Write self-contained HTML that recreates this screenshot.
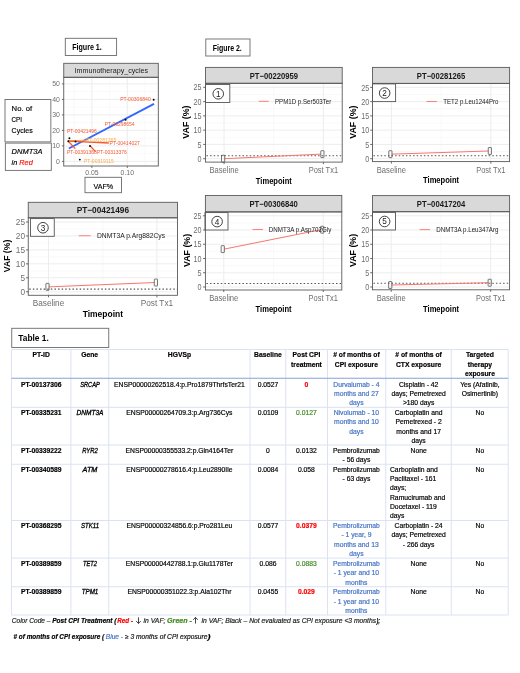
<!DOCTYPE html>
<html><head><meta charset="utf-8"><title>Figure</title>
<style>
html,body{margin:0;padding:0;background:#fff;}
body{width:520px;height:673px;overflow:hidden;}
svg{display:block;font-family:"Liberation Sans", sans-serif;filter:blur(0.35px);}
</style></head>
<body>
<svg width="520" height="673" viewBox="0 0 520 673">
<rect x="0" y="0" width="520" height="673" fill="#fff"/>
<rect x="65.30" y="38.30" width="51.30" height="17.20" fill="#fff" stroke="#6b6b6b" stroke-width="0.9"/>
<text x="72.20" y="50.10" font-size="8.8" font-weight="bold" textLength="29.60" lengthAdjust="spacingAndGlyphs">Figure 1.</text>
<rect x="205.80" y="39.00" width="44.20" height="17.00" fill="#fff" stroke="#6b6b6b" stroke-width="0.9"/>
<text x="212.70" y="50.60" font-size="8.5" font-weight="bold" textLength="29.10" lengthAdjust="spacingAndGlyphs">Figure 2.</text>
<rect x="63.75" y="77.30" width="94.55" height="88.70" fill="#fff" stroke="none" stroke-width="1"/>
<line x1="63.75" y1="153.65" x2="158.30" y2="153.65" stroke="#f5f5f5" stroke-width="0.6"/>
<line x1="63.75" y1="138.15" x2="158.30" y2="138.15" stroke="#f5f5f5" stroke-width="0.6"/>
<line x1="63.75" y1="122.65" x2="158.30" y2="122.65" stroke="#f5f5f5" stroke-width="0.6"/>
<line x1="63.75" y1="107.15" x2="158.30" y2="107.15" stroke="#f5f5f5" stroke-width="0.6"/>
<line x1="63.75" y1="91.65" x2="158.30" y2="91.65" stroke="#f5f5f5" stroke-width="0.6"/>
<line x1="74.20" y1="77.30" x2="74.20" y2="166.00" stroke="#f5f5f5" stroke-width="0.6"/>
<line x1="109.60" y1="77.30" x2="109.60" y2="166.00" stroke="#f5f5f5" stroke-width="0.6"/>
<line x1="145.00" y1="77.30" x2="145.00" y2="166.00" stroke="#f5f5f5" stroke-width="0.6"/>
<line x1="63.75" y1="161.40" x2="158.30" y2="161.40" stroke="#ebebeb" stroke-width="0.9"/>
<line x1="63.75" y1="145.90" x2="158.30" y2="145.90" stroke="#ebebeb" stroke-width="0.9"/>
<line x1="63.75" y1="130.40" x2="158.30" y2="130.40" stroke="#ebebeb" stroke-width="0.9"/>
<line x1="63.75" y1="114.90" x2="158.30" y2="114.90" stroke="#ebebeb" stroke-width="0.9"/>
<line x1="63.75" y1="99.40" x2="158.30" y2="99.40" stroke="#ebebeb" stroke-width="0.9"/>
<line x1="63.75" y1="83.90" x2="158.30" y2="83.90" stroke="#ebebeb" stroke-width="0.9"/>
<line x1="91.90" y1="77.30" x2="91.90" y2="166.00" stroke="#ebebeb" stroke-width="0.9"/>
<line x1="127.30" y1="77.30" x2="127.30" y2="166.00" stroke="#ebebeb" stroke-width="0.9"/>
<rect x="63.75" y="63.30" width="94.55" height="14.00" fill="#d9d9d9" stroke="#5a5a5a" stroke-width="0.9"/>
<text x="111.30" y="73.30" font-size="7.4" fill="#1a1a1a" text-anchor="middle" textLength="73.50" lengthAdjust="spacingAndGlyphs">Immunotherapy_cycles</text>
<line x1="68.80" y1="148.50" x2="154.00" y2="103.90" stroke="#3366ff" stroke-width="1.9"/>
<line x1="68.30" y1="140.70" x2="87.00" y2="140.20" stroke="#f7ad45" stroke-width="1.0"/>
<line x1="68.30" y1="141.20" x2="108.80" y2="143.00" stroke="#f45a34" stroke-width="1.3"/>
<line x1="68.50" y1="141.50" x2="75.30" y2="148.60" stroke="#f45a34" stroke-width="1.3"/>
<line x1="90.00" y1="145.80" x2="95.50" y2="151.60" stroke="#f45a34" stroke-width="1.3"/>
<circle cx="153.65" cy="99.8" r="0.95" fill="#000"/>
<circle cx="125.6" cy="119.8" r="0.95" fill="#000"/>
<circle cx="69.4" cy="138.2" r="0.95" fill="#000"/>
<circle cx="68.3" cy="141.2" r="0.95" fill="#000"/>
<circle cx="75.5" cy="141.5" r="0.95" fill="#000"/>
<circle cx="90.0" cy="146.0" r="0.95" fill="#000"/>
<circle cx="79.8" cy="159.6" r="0.95" fill="#000"/>
<text x="120.20" y="101.05" font-size="4.9" fill="#f45a34" textLength="30.60" lengthAdjust="spacingAndGlyphs">PT-00306840</text>
<text x="104.80" y="126.35" font-size="4.9" fill="#f45a34" textLength="29.80" lengthAdjust="spacingAndGlyphs">PT-00298654</text>
<text x="66.90" y="132.85" font-size="4.9" fill="#f45a34" textLength="29.90" lengthAdjust="spacingAndGlyphs">PT-00421496</text>
<text x="85.90" y="141.55" font-size="4.9" fill="#f7ad45" textLength="30.30" lengthAdjust="spacingAndGlyphs">PT-00281265</text>
<text x="109.60" y="144.75" font-size="4.9" fill="#f45a34" textLength="30.30" lengthAdjust="spacingAndGlyphs">PT-00414027</text>
<text x="66.90" y="153.85" font-size="4.9" fill="#f45a34" textLength="30.00" lengthAdjust="spacingAndGlyphs">PT-00391368</text>
<text x="96.90" y="153.85" font-size="4.9" fill="#f45a34" textLength="29.90" lengthAdjust="spacingAndGlyphs">PT-00313376</text>
<text x="84.00" y="163.35" font-size="4.9" fill="#f7ad45" textLength="29.90" lengthAdjust="spacingAndGlyphs">PT-00319115</text>
<rect x="63.75" y="77.30" width="94.55" height="88.70" fill="none" stroke="#5a5a5a" stroke-width="0.9"/>
<line x1="61.90" y1="161.40" x2="63.75" y2="161.40" stroke="#5a5a5a" stroke-width="0.9"/>
<text x="59.80" y="163.85" font-size="6.9" fill="#6e6e6e" text-anchor="end">0</text>
<line x1="61.90" y1="145.90" x2="63.75" y2="145.90" stroke="#5a5a5a" stroke-width="0.9"/>
<text x="59.80" y="148.35" font-size="6.9" fill="#6e6e6e" text-anchor="end">10</text>
<line x1="61.90" y1="130.40" x2="63.75" y2="130.40" stroke="#5a5a5a" stroke-width="0.9"/>
<text x="59.80" y="132.85" font-size="6.9" fill="#6e6e6e" text-anchor="end">20</text>
<line x1="61.90" y1="114.90" x2="63.75" y2="114.90" stroke="#5a5a5a" stroke-width="0.9"/>
<text x="59.80" y="117.35" font-size="6.9" fill="#6e6e6e" text-anchor="end">30</text>
<line x1="61.90" y1="99.40" x2="63.75" y2="99.40" stroke="#5a5a5a" stroke-width="0.9"/>
<text x="59.80" y="101.85" font-size="6.9" fill="#6e6e6e" text-anchor="end">40</text>
<line x1="61.90" y1="83.90" x2="63.75" y2="83.90" stroke="#5a5a5a" stroke-width="0.9"/>
<text x="59.80" y="86.35" font-size="6.9" fill="#6e6e6e" text-anchor="end">50</text>
<line x1="91.90" y1="166.00" x2="91.90" y2="167.90" stroke="#5a5a5a" stroke-width="0.9"/>
<text x="91.90" y="175.40" font-size="6.9" fill="#6e6e6e" text-anchor="middle">0.05</text>
<line x1="127.30" y1="166.00" x2="127.30" y2="167.90" stroke="#5a5a5a" stroke-width="0.9"/>
<text x="127.30" y="175.40" font-size="6.9" fill="#6e6e6e" text-anchor="middle">0.10</text>
<rect x="5.00" y="99.50" width="45.85" height="42.40" fill="#fff" stroke="#6b6b6b" stroke-width="0.9"/>
<text x="11.60" y="110.70" font-size="7.3" stroke="#000" stroke-width="0.15" textLength="20.50" lengthAdjust="spacingAndGlyphs">No. of</text>
<text x="11.60" y="121.80" font-size="7.3" stroke="#000" stroke-width="0.15" textLength="10.40" lengthAdjust="spacingAndGlyphs">CPI</text>
<text x="11.60" y="133.00" font-size="7.3" stroke="#000" stroke-width="0.15" textLength="21.10" lengthAdjust="spacingAndGlyphs">Cycles</text>
<rect x="5.35" y="143.10" width="45.95" height="27.30" fill="#fff" stroke="#6b6b6b" stroke-width="0.9"/>
<text x="11.60" y="154.40" font-size="7.3" stroke="#000" stroke-width="0.15" font-style="italic" textLength="30.90" lengthAdjust="spacingAndGlyphs">DNMT3A</text>
<text x="11.6" y="165.3" font-size="7.3" font-style="italic" stroke="#000" stroke-width="0.15">in <tspan fill="#ff0000" stroke="#ff0000">Red</tspan></text>
<rect x="85.00" y="177.30" width="36.50" height="15.40" fill="#fff" stroke="#6b6b6b" stroke-width="0.9"/>
<text x="93.50" y="188.75" font-size="7.6" stroke="#000" stroke-width="0.15" textLength="19.70" lengthAdjust="spacingAndGlyphs">VAF%</text>
<rect x="205.50" y="83.30" width="136.70" height="78.80" fill="#fff" stroke="none" stroke-width="1"/>
<line x1="205.50" y1="151.56" x2="342.20" y2="151.56" stroke="#f5f5f5" stroke-width="0.6"/>
<line x1="205.50" y1="137.28" x2="342.20" y2="137.28" stroke="#f5f5f5" stroke-width="0.6"/>
<line x1="205.50" y1="123.00" x2="342.20" y2="123.00" stroke="#f5f5f5" stroke-width="0.6"/>
<line x1="205.50" y1="108.72" x2="342.20" y2="108.72" stroke="#f5f5f5" stroke-width="0.6"/>
<line x1="205.50" y1="94.44" x2="342.20" y2="94.44" stroke="#f5f5f5" stroke-width="0.6"/>
<line x1="273.75" y1="83.30" x2="273.75" y2="162.10" stroke="#f5f5f5" stroke-width="0.6"/>
<line x1="205.50" y1="158.70" x2="342.20" y2="158.70" stroke="#ebebeb" stroke-width="0.9"/>
<line x1="205.50" y1="144.42" x2="342.20" y2="144.42" stroke="#ebebeb" stroke-width="0.9"/>
<line x1="205.50" y1="130.14" x2="342.20" y2="130.14" stroke="#ebebeb" stroke-width="0.9"/>
<line x1="205.50" y1="115.86" x2="342.20" y2="115.86" stroke="#ebebeb" stroke-width="0.9"/>
<line x1="205.50" y1="101.58" x2="342.20" y2="101.58" stroke="#ebebeb" stroke-width="0.9"/>
<line x1="205.50" y1="87.30" x2="342.20" y2="87.30" stroke="#ebebeb" stroke-width="0.9"/>
<line x1="224.10" y1="83.30" x2="224.10" y2="162.10" stroke="#ebebeb" stroke-width="0.9"/>
<line x1="323.40" y1="83.30" x2="323.40" y2="162.10" stroke="#ebebeb" stroke-width="0.9"/>
<line x1="206.50" y1="155.70" x2="342.20" y2="155.70" stroke="#555" stroke-width="1.05" stroke-dasharray="1.5,2.1"/>
<line x1="224.70" y1="158.70" x2="320.80" y2="154.13" stroke="#f8766d" stroke-width="1.0"/>
<rect x="221.50" y="155.25" width="3.20" height="6.90" fill="none" stroke="#555" stroke-width="0.8" rx="0.4"/>
<rect x="320.80" y="150.68" width="3.20" height="6.90" fill="none" stroke="#555" stroke-width="0.8" rx="0.4"/>
<line x1="258.75" y1="101.30" x2="268.75" y2="101.30" stroke="#f8766d" stroke-width="0.9"/>
<text x="275.00" y="103.70" font-size="7.0" fill="#1a1a1a" textLength="56.25" lengthAdjust="spacingAndGlyphs">PPM1D p.Ser503Ter</text>
<rect x="205.50" y="67.40" width="136.70" height="15.90" fill="#d9d9d9" stroke="#5a5a5a" stroke-width="0.9"/>
<text x="273.85" y="78.55" font-size="8.8" fill="#1a1a1a" font-weight="bold" text-anchor="middle" textLength="48.40" lengthAdjust="spacingAndGlyphs">PT−00220959</text>
<rect x="205.50" y="84.50" width="24.30" height="18.00" fill="#fff" stroke="#555" stroke-width="0.9"/>
<circle cx="218.25" cy="93.80" r="5.3" fill="none" stroke="#222" stroke-width="0.85"/>
<text x="218.25" y="96.75" font-size="8.2" fill="#1a1a1a" text-anchor="middle">1</text>
<rect x="205.50" y="83.30" width="136.70" height="78.80" fill="none" stroke="#5a5a5a" stroke-width="0.9"/>
<line x1="203.20" y1="158.70" x2="205.50" y2="158.70" stroke="#5a5a5a" stroke-width="0.9"/>
<text x="201.50" y="161.80" font-size="8.8" fill="#6e6e6e" text-anchor="end" textLength="4.00" lengthAdjust="spacingAndGlyphs">0</text>
<line x1="203.20" y1="144.42" x2="205.50" y2="144.42" stroke="#5a5a5a" stroke-width="0.9"/>
<text x="201.50" y="147.52" font-size="8.8" fill="#6e6e6e" text-anchor="end" textLength="4.00" lengthAdjust="spacingAndGlyphs">5</text>
<line x1="203.20" y1="130.14" x2="205.50" y2="130.14" stroke="#5a5a5a" stroke-width="0.9"/>
<text x="201.50" y="133.24" font-size="8.8" fill="#6e6e6e" text-anchor="end" textLength="8.00" lengthAdjust="spacingAndGlyphs">10</text>
<line x1="203.20" y1="115.86" x2="205.50" y2="115.86" stroke="#5a5a5a" stroke-width="0.9"/>
<text x="201.50" y="118.96" font-size="8.8" fill="#6e6e6e" text-anchor="end" textLength="8.00" lengthAdjust="spacingAndGlyphs">15</text>
<line x1="203.20" y1="101.58" x2="205.50" y2="101.58" stroke="#5a5a5a" stroke-width="0.9"/>
<text x="201.50" y="104.68" font-size="8.8" fill="#6e6e6e" text-anchor="end" textLength="8.00" lengthAdjust="spacingAndGlyphs">20</text>
<line x1="203.20" y1="87.30" x2="205.50" y2="87.30" stroke="#5a5a5a" stroke-width="0.9"/>
<text x="201.50" y="90.40" font-size="8.8" fill="#6e6e6e" text-anchor="end" textLength="8.00" lengthAdjust="spacingAndGlyphs">25</text>
<line x1="224.10" y1="162.10" x2="224.10" y2="164.10" stroke="#5a5a5a" stroke-width="0.9"/>
<line x1="323.40" y1="162.10" x2="323.40" y2="164.10" stroke="#5a5a5a" stroke-width="0.9"/>
<text x="224.10" y="173.20" font-size="8.8" fill="#6e6e6e" text-anchor="middle" textLength="29.20" lengthAdjust="spacingAndGlyphs">Baseline</text>
<text x="323.40" y="173.20" font-size="8.8" fill="#6e6e6e" text-anchor="middle" textLength="29.30" lengthAdjust="spacingAndGlyphs">Post Tx1</text>
<text x="273.85" y="183.70" font-size="8.8" font-weight="bold" text-anchor="middle" textLength="36.00" lengthAdjust="spacingAndGlyphs">Timepoint</text>
<text transform="translate(189.40,122.10) rotate(-90)" font-size="8.3" font-weight="bold" text-anchor="middle" textLength="33.2" lengthAdjust="spacingAndGlyphs">VAF (%)</text>
<rect x="372.50" y="83.40" width="137.10" height="78.20" fill="#fff" stroke="none" stroke-width="1"/>
<line x1="372.50" y1="151.57" x2="509.60" y2="151.57" stroke="#f5f5f5" stroke-width="0.6"/>
<line x1="372.50" y1="137.31" x2="509.60" y2="137.31" stroke="#f5f5f5" stroke-width="0.6"/>
<line x1="372.50" y1="123.05" x2="509.60" y2="123.05" stroke="#f5f5f5" stroke-width="0.6"/>
<line x1="372.50" y1="108.79" x2="509.60" y2="108.79" stroke="#f5f5f5" stroke-width="0.6"/>
<line x1="372.50" y1="94.53" x2="509.60" y2="94.53" stroke="#f5f5f5" stroke-width="0.6"/>
<line x1="441.12" y1="83.40" x2="441.12" y2="161.60" stroke="#f5f5f5" stroke-width="0.6"/>
<line x1="372.50" y1="158.70" x2="509.60" y2="158.70" stroke="#ebebeb" stroke-width="0.9"/>
<line x1="372.50" y1="144.44" x2="509.60" y2="144.44" stroke="#ebebeb" stroke-width="0.9"/>
<line x1="372.50" y1="130.18" x2="509.60" y2="130.18" stroke="#ebebeb" stroke-width="0.9"/>
<line x1="372.50" y1="115.92" x2="509.60" y2="115.92" stroke="#ebebeb" stroke-width="0.9"/>
<line x1="372.50" y1="101.66" x2="509.60" y2="101.66" stroke="#ebebeb" stroke-width="0.9"/>
<line x1="372.50" y1="87.40" x2="509.60" y2="87.40" stroke="#ebebeb" stroke-width="0.9"/>
<line x1="391.40" y1="83.40" x2="391.40" y2="161.60" stroke="#ebebeb" stroke-width="0.9"/>
<line x1="490.85" y1="83.40" x2="490.85" y2="161.60" stroke="#ebebeb" stroke-width="0.9"/>
<line x1="373.50" y1="155.71" x2="509.60" y2="155.71" stroke="#555" stroke-width="1.05" stroke-dasharray="1.5,2.1"/>
<line x1="392.00" y1="154.14" x2="488.25" y2="151.00" stroke="#f8766d" stroke-width="1.0"/>
<rect x="388.80" y="150.69" width="3.20" height="6.90" fill="none" stroke="#555" stroke-width="0.8" rx="0.4"/>
<rect x="488.25" y="147.55" width="3.20" height="6.90" fill="none" stroke="#555" stroke-width="0.8" rx="0.4"/>
<line x1="426.50" y1="101.50" x2="437.00" y2="101.50" stroke="#f8766d" stroke-width="0.9"/>
<text x="443.20" y="103.90" font-size="7.0" fill="#1a1a1a" textLength="55.30" lengthAdjust="spacingAndGlyphs">TET2 p.Leu1244Pro</text>
<rect x="372.50" y="67.40" width="137.10" height="16.00" fill="#d9d9d9" stroke="#5a5a5a" stroke-width="0.9"/>
<text x="441.05" y="78.60" font-size="8.8" fill="#1a1a1a" font-weight="bold" text-anchor="middle" textLength="48.40" lengthAdjust="spacingAndGlyphs">PT−00281265</text>
<rect x="372.50" y="83.90" width="23.10" height="17.70" fill="#fff" stroke="#555" stroke-width="0.9"/>
<circle cx="384.65" cy="93.05" r="5.3" fill="none" stroke="#222" stroke-width="0.85"/>
<text x="384.65" y="96.00" font-size="8.2" fill="#1a1a1a" text-anchor="middle">2</text>
<rect x="372.50" y="83.40" width="137.10" height="78.20" fill="none" stroke="#5a5a5a" stroke-width="0.9"/>
<line x1="370.20" y1="158.70" x2="372.50" y2="158.70" stroke="#5a5a5a" stroke-width="0.9"/>
<text x="369.30" y="161.80" font-size="8.8" fill="#6e6e6e" text-anchor="end" textLength="4.00" lengthAdjust="spacingAndGlyphs">0</text>
<line x1="370.20" y1="144.44" x2="372.50" y2="144.44" stroke="#5a5a5a" stroke-width="0.9"/>
<text x="369.30" y="147.54" font-size="8.8" fill="#6e6e6e" text-anchor="end" textLength="4.00" lengthAdjust="spacingAndGlyphs">5</text>
<line x1="370.20" y1="130.18" x2="372.50" y2="130.18" stroke="#5a5a5a" stroke-width="0.9"/>
<text x="369.30" y="133.28" font-size="8.8" fill="#6e6e6e" text-anchor="end" textLength="8.00" lengthAdjust="spacingAndGlyphs">10</text>
<line x1="370.20" y1="115.92" x2="372.50" y2="115.92" stroke="#5a5a5a" stroke-width="0.9"/>
<text x="369.30" y="119.02" font-size="8.8" fill="#6e6e6e" text-anchor="end" textLength="8.00" lengthAdjust="spacingAndGlyphs">15</text>
<line x1="370.20" y1="101.66" x2="372.50" y2="101.66" stroke="#5a5a5a" stroke-width="0.9"/>
<text x="369.30" y="104.76" font-size="8.8" fill="#6e6e6e" text-anchor="end" textLength="8.00" lengthAdjust="spacingAndGlyphs">20</text>
<line x1="370.20" y1="87.40" x2="372.50" y2="87.40" stroke="#5a5a5a" stroke-width="0.9"/>
<text x="369.30" y="90.50" font-size="8.8" fill="#6e6e6e" text-anchor="end" textLength="8.00" lengthAdjust="spacingAndGlyphs">25</text>
<line x1="391.40" y1="161.60" x2="391.40" y2="163.60" stroke="#5a5a5a" stroke-width="0.9"/>
<line x1="490.85" y1="161.60" x2="490.85" y2="163.60" stroke="#5a5a5a" stroke-width="0.9"/>
<text x="391.40" y="172.80" font-size="8.8" fill="#6e6e6e" text-anchor="middle" textLength="29.20" lengthAdjust="spacingAndGlyphs">Baseline</text>
<text x="490.85" y="172.80" font-size="8.8" fill="#6e6e6e" text-anchor="middle" textLength="29.30" lengthAdjust="spacingAndGlyphs">Post Tx1</text>
<text x="441.05" y="183.40" font-size="8.8" font-weight="bold" text-anchor="middle" textLength="36.00" lengthAdjust="spacingAndGlyphs">Timepoint</text>
<text transform="translate(356.00,122.15) rotate(-90)" font-size="8.3" font-weight="bold" text-anchor="middle" textLength="33.2" lengthAdjust="spacingAndGlyphs">VAF (%)</text>
<rect x="28.25" y="217.80" width="149.25" height="77.50" fill="#fff" stroke="none" stroke-width="1"/>
<line x1="28.25" y1="284.77" x2="177.50" y2="284.77" stroke="#f5f5f5" stroke-width="0.6"/>
<line x1="28.25" y1="270.82" x2="177.50" y2="270.82" stroke="#f5f5f5" stroke-width="0.6"/>
<line x1="28.25" y1="256.88" x2="177.50" y2="256.88" stroke="#f5f5f5" stroke-width="0.6"/>
<line x1="28.25" y1="242.93" x2="177.50" y2="242.93" stroke="#f5f5f5" stroke-width="0.6"/>
<line x1="28.25" y1="228.97" x2="177.50" y2="228.97" stroke="#f5f5f5" stroke-width="0.6"/>
<line x1="102.70" y1="217.80" x2="102.70" y2="295.30" stroke="#f5f5f5" stroke-width="0.6"/>
<line x1="28.25" y1="291.75" x2="177.50" y2="291.75" stroke="#ebebeb" stroke-width="0.9"/>
<line x1="28.25" y1="277.80" x2="177.50" y2="277.80" stroke="#ebebeb" stroke-width="0.9"/>
<line x1="28.25" y1="263.85" x2="177.50" y2="263.85" stroke="#ebebeb" stroke-width="0.9"/>
<line x1="28.25" y1="249.90" x2="177.50" y2="249.90" stroke="#ebebeb" stroke-width="0.9"/>
<line x1="28.25" y1="235.95" x2="177.50" y2="235.95" stroke="#ebebeb" stroke-width="0.9"/>
<line x1="28.25" y1="222.00" x2="177.50" y2="222.00" stroke="#ebebeb" stroke-width="0.9"/>
<line x1="48.50" y1="217.80" x2="48.50" y2="295.30" stroke="#ebebeb" stroke-width="0.9"/>
<line x1="156.90" y1="217.80" x2="156.90" y2="295.30" stroke="#ebebeb" stroke-width="0.9"/>
<line x1="29.25" y1="289.10" x2="177.50" y2="289.10" stroke="#555" stroke-width="1.05" stroke-dasharray="1.5,2.1"/>
<line x1="49.10" y1="286.87" x2="154.30" y2="282.54" stroke="#f8766d" stroke-width="1.0"/>
<rect x="45.90" y="283.42" width="3.20" height="6.90" fill="none" stroke="#555" stroke-width="0.8" rx="0.4"/>
<rect x="154.30" y="279.09" width="3.20" height="6.90" fill="none" stroke="#555" stroke-width="0.8" rx="0.4"/>
<line x1="78.75" y1="235.75" x2="90.50" y2="235.75" stroke="#f8766d" stroke-width="0.9"/>
<text x="97.00" y="238.15" font-size="7.0" fill="#1a1a1a" textLength="68.00" lengthAdjust="spacingAndGlyphs">DNMT3A p.Arg882Cys</text>
<rect x="28.25" y="202.30" width="149.25" height="15.50" fill="#d9d9d9" stroke="#5a5a5a" stroke-width="0.9"/>
<text x="102.88" y="213.25" font-size="8.8" fill="#1a1a1a" font-weight="bold" text-anchor="middle" textLength="52.50" lengthAdjust="spacingAndGlyphs">PT−00421496</text>
<rect x="30.50" y="218.60" width="23.75" height="17.70" fill="#fff" stroke="#555" stroke-width="0.9"/>
<circle cx="42.98" cy="227.75" r="5.3" fill="none" stroke="#222" stroke-width="0.85"/>
<text x="42.98" y="230.70" font-size="8.2" fill="#1a1a1a" text-anchor="middle">3</text>
<rect x="28.25" y="217.80" width="149.25" height="77.50" fill="none" stroke="#5a5a5a" stroke-width="0.9"/>
<line x1="25.95" y1="291.75" x2="28.25" y2="291.75" stroke="#5a5a5a" stroke-width="0.9"/>
<text x="25.00" y="294.85" font-size="8.8" fill="#6e6e6e" text-anchor="end" textLength="4.60" lengthAdjust="spacingAndGlyphs">0</text>
<line x1="25.95" y1="277.80" x2="28.25" y2="277.80" stroke="#5a5a5a" stroke-width="0.9"/>
<text x="25.00" y="280.90" font-size="8.8" fill="#6e6e6e" text-anchor="end" textLength="4.60" lengthAdjust="spacingAndGlyphs">5</text>
<line x1="25.95" y1="263.85" x2="28.25" y2="263.85" stroke="#5a5a5a" stroke-width="0.9"/>
<text x="25.00" y="266.95" font-size="8.8" fill="#6e6e6e" text-anchor="end" textLength="9.20" lengthAdjust="spacingAndGlyphs">10</text>
<line x1="25.95" y1="249.90" x2="28.25" y2="249.90" stroke="#5a5a5a" stroke-width="0.9"/>
<text x="25.00" y="253.00" font-size="8.8" fill="#6e6e6e" text-anchor="end" textLength="9.20" lengthAdjust="spacingAndGlyphs">15</text>
<line x1="25.95" y1="235.95" x2="28.25" y2="235.95" stroke="#5a5a5a" stroke-width="0.9"/>
<text x="25.00" y="239.05" font-size="8.8" fill="#6e6e6e" text-anchor="end" textLength="9.20" lengthAdjust="spacingAndGlyphs">20</text>
<line x1="25.95" y1="222.00" x2="28.25" y2="222.00" stroke="#5a5a5a" stroke-width="0.9"/>
<text x="25.00" y="225.10" font-size="8.8" fill="#6e6e6e" text-anchor="end" textLength="9.20" lengthAdjust="spacingAndGlyphs">25</text>
<line x1="48.50" y1="295.30" x2="48.50" y2="297.30" stroke="#5a5a5a" stroke-width="0.9"/>
<line x1="156.90" y1="295.30" x2="156.90" y2="297.30" stroke="#5a5a5a" stroke-width="0.9"/>
<text x="48.50" y="306.10" font-size="8.8" fill="#6e6e6e" text-anchor="middle" textLength="31.50" lengthAdjust="spacingAndGlyphs">Baseline</text>
<text x="156.90" y="306.10" font-size="8.8" fill="#6e6e6e" text-anchor="middle" textLength="32.50" lengthAdjust="spacingAndGlyphs">Post Tx1</text>
<text x="102.88" y="316.50" font-size="8.8" font-weight="bold" text-anchor="middle" textLength="40.30" lengthAdjust="spacingAndGlyphs">Timepoint</text>
<text transform="translate(10.40,255.97) rotate(-90)" font-size="8.3" font-weight="bold" text-anchor="middle" textLength="32.5" lengthAdjust="spacingAndGlyphs">VAF (%)</text>
<rect x="205.40" y="211.90" width="136.40" height="78.10" fill="#fff" stroke="none" stroke-width="1"/>
<line x1="205.40" y1="279.88" x2="341.80" y2="279.88" stroke="#f5f5f5" stroke-width="0.6"/>
<line x1="205.40" y1="265.62" x2="341.80" y2="265.62" stroke="#f5f5f5" stroke-width="0.6"/>
<line x1="205.40" y1="251.38" x2="341.80" y2="251.38" stroke="#f5f5f5" stroke-width="0.6"/>
<line x1="205.40" y1="237.12" x2="341.80" y2="237.12" stroke="#f5f5f5" stroke-width="0.6"/>
<line x1="205.40" y1="222.88" x2="341.80" y2="222.88" stroke="#f5f5f5" stroke-width="0.6"/>
<line x1="273.50" y1="211.90" x2="273.50" y2="290.00" stroke="#f5f5f5" stroke-width="0.6"/>
<line x1="205.40" y1="287.00" x2="341.80" y2="287.00" stroke="#ebebeb" stroke-width="0.9"/>
<line x1="205.40" y1="272.75" x2="341.80" y2="272.75" stroke="#ebebeb" stroke-width="0.9"/>
<line x1="205.40" y1="258.50" x2="341.80" y2="258.50" stroke="#ebebeb" stroke-width="0.9"/>
<line x1="205.40" y1="244.25" x2="341.80" y2="244.25" stroke="#ebebeb" stroke-width="0.9"/>
<line x1="205.40" y1="230.00" x2="341.80" y2="230.00" stroke="#ebebeb" stroke-width="0.9"/>
<line x1="205.40" y1="215.75" x2="341.80" y2="215.75" stroke="#ebebeb" stroke-width="0.9"/>
<line x1="223.75" y1="211.90" x2="223.75" y2="290.00" stroke="#ebebeb" stroke-width="0.9"/>
<line x1="323.25" y1="211.90" x2="323.25" y2="290.00" stroke="#ebebeb" stroke-width="0.9"/>
<line x1="206.40" y1="283.58" x2="341.80" y2="283.58" stroke="#555" stroke-width="1.05" stroke-dasharray="1.5,2.1"/>
<line x1="224.35" y1="249.09" x2="320.65" y2="229.72" stroke="#f8766d" stroke-width="1.0"/>
<rect x="221.15" y="245.65" width="3.20" height="6.90" fill="none" stroke="#555" stroke-width="0.8" rx="0.4"/>
<rect x="320.65" y="226.27" width="3.20" height="6.90" fill="none" stroke="#555" stroke-width="0.8" rx="0.4"/>
<line x1="252.50" y1="229.50" x2="263.00" y2="229.50" stroke="#f8766d" stroke-width="0.9"/>
<text x="268.75" y="231.90" font-size="7.0" fill="#1a1a1a" textLength="62.50" lengthAdjust="spacingAndGlyphs">DNMT3A p.Asp702Gly</text>
<rect x="205.40" y="195.50" width="136.40" height="16.40" fill="#d9d9d9" stroke="#5a5a5a" stroke-width="0.9"/>
<text x="273.60" y="206.90" font-size="8.8" fill="#1a1a1a" font-weight="bold" text-anchor="middle" textLength="48.40" lengthAdjust="spacingAndGlyphs">PT−00306840</text>
<rect x="205.00" y="212.60" width="23.00" height="17.40" fill="#fff" stroke="#555" stroke-width="0.9"/>
<circle cx="217.10" cy="221.60" r="5.3" fill="none" stroke="#222" stroke-width="0.85"/>
<text x="217.10" y="224.55" font-size="8.2" fill="#1a1a1a" text-anchor="middle">4</text>
<rect x="205.40" y="211.90" width="136.40" height="78.10" fill="none" stroke="#5a5a5a" stroke-width="0.9"/>
<line x1="203.10" y1="287.00" x2="205.40" y2="287.00" stroke="#5a5a5a" stroke-width="0.9"/>
<text x="201.50" y="290.10" font-size="8.8" fill="#6e6e6e" text-anchor="end" textLength="4.00" lengthAdjust="spacingAndGlyphs">0</text>
<line x1="203.10" y1="272.75" x2="205.40" y2="272.75" stroke="#5a5a5a" stroke-width="0.9"/>
<text x="201.50" y="275.85" font-size="8.8" fill="#6e6e6e" text-anchor="end" textLength="4.00" lengthAdjust="spacingAndGlyphs">5</text>
<line x1="203.10" y1="258.50" x2="205.40" y2="258.50" stroke="#5a5a5a" stroke-width="0.9"/>
<text x="201.50" y="261.60" font-size="8.8" fill="#6e6e6e" text-anchor="end" textLength="8.00" lengthAdjust="spacingAndGlyphs">10</text>
<line x1="203.10" y1="244.25" x2="205.40" y2="244.25" stroke="#5a5a5a" stroke-width="0.9"/>
<text x="201.50" y="247.35" font-size="8.8" fill="#6e6e6e" text-anchor="end" textLength="8.00" lengthAdjust="spacingAndGlyphs">15</text>
<line x1="203.10" y1="230.00" x2="205.40" y2="230.00" stroke="#5a5a5a" stroke-width="0.9"/>
<text x="201.50" y="233.10" font-size="8.8" fill="#6e6e6e" text-anchor="end" textLength="8.00" lengthAdjust="spacingAndGlyphs">20</text>
<line x1="203.10" y1="215.75" x2="205.40" y2="215.75" stroke="#5a5a5a" stroke-width="0.9"/>
<text x="201.50" y="218.85" font-size="8.8" fill="#6e6e6e" text-anchor="end" textLength="8.00" lengthAdjust="spacingAndGlyphs">25</text>
<line x1="223.75" y1="290.00" x2="223.75" y2="292.00" stroke="#5a5a5a" stroke-width="0.9"/>
<line x1="323.25" y1="290.00" x2="323.25" y2="292.00" stroke="#5a5a5a" stroke-width="0.9"/>
<text x="223.75" y="300.90" font-size="8.8" fill="#6e6e6e" text-anchor="middle" textLength="29.20" lengthAdjust="spacingAndGlyphs">Baseline</text>
<text x="323.25" y="300.90" font-size="8.8" fill="#6e6e6e" text-anchor="middle" textLength="29.30" lengthAdjust="spacingAndGlyphs">Post Tx1</text>
<text x="273.60" y="311.60" font-size="8.8" font-weight="bold" text-anchor="middle" textLength="36.00" lengthAdjust="spacingAndGlyphs">Timepoint</text>
<text transform="translate(189.60,250.47) rotate(-90)" font-size="8.3" font-weight="bold" text-anchor="middle" textLength="33.2" lengthAdjust="spacingAndGlyphs">VAF (%)</text>
<rect x="372.50" y="211.70" width="137.10" height="78.10" fill="#fff" stroke="none" stroke-width="1"/>
<line x1="372.50" y1="279.88" x2="509.60" y2="279.88" stroke="#f5f5f5" stroke-width="0.6"/>
<line x1="372.50" y1="265.62" x2="509.60" y2="265.62" stroke="#f5f5f5" stroke-width="0.6"/>
<line x1="372.50" y1="251.38" x2="509.60" y2="251.38" stroke="#f5f5f5" stroke-width="0.6"/>
<line x1="372.50" y1="237.12" x2="509.60" y2="237.12" stroke="#f5f5f5" stroke-width="0.6"/>
<line x1="372.50" y1="222.88" x2="509.60" y2="222.88" stroke="#f5f5f5" stroke-width="0.6"/>
<line x1="440.98" y1="211.70" x2="440.98" y2="289.80" stroke="#f5f5f5" stroke-width="0.6"/>
<line x1="372.50" y1="287.00" x2="509.60" y2="287.00" stroke="#ebebeb" stroke-width="0.9"/>
<line x1="372.50" y1="272.75" x2="509.60" y2="272.75" stroke="#ebebeb" stroke-width="0.9"/>
<line x1="372.50" y1="258.50" x2="509.60" y2="258.50" stroke="#ebebeb" stroke-width="0.9"/>
<line x1="372.50" y1="244.25" x2="509.60" y2="244.25" stroke="#ebebeb" stroke-width="0.9"/>
<line x1="372.50" y1="230.00" x2="509.60" y2="230.00" stroke="#ebebeb" stroke-width="0.9"/>
<line x1="372.50" y1="215.75" x2="509.60" y2="215.75" stroke="#ebebeb" stroke-width="0.9"/>
<line x1="391.25" y1="211.70" x2="391.25" y2="289.80" stroke="#ebebeb" stroke-width="0.9"/>
<line x1="490.70" y1="211.70" x2="490.70" y2="289.80" stroke="#ebebeb" stroke-width="0.9"/>
<line x1="373.50" y1="283.30" x2="509.60" y2="283.30" stroke="#555" stroke-width="1.05" stroke-dasharray="1.5,2.1"/>
<line x1="391.85" y1="285.00" x2="488.10" y2="282.73" stroke="#f8766d" stroke-width="1.0"/>
<rect x="388.65" y="281.56" width="3.20" height="6.90" fill="none" stroke="#555" stroke-width="0.8" rx="0.4"/>
<rect x="488.10" y="279.28" width="3.20" height="6.90" fill="none" stroke="#555" stroke-width="0.8" rx="0.4"/>
<line x1="419.60" y1="229.60" x2="430.00" y2="229.60" stroke="#f8766d" stroke-width="0.9"/>
<text x="436.20" y="232.00" font-size="7.0" fill="#1a1a1a" textLength="62.30" lengthAdjust="spacingAndGlyphs">DNMT3A p.Leu347Arg</text>
<rect x="372.50" y="195.60" width="137.10" height="16.10" fill="#d9d9d9" stroke="#5a5a5a" stroke-width="0.9"/>
<text x="441.05" y="206.85" font-size="8.8" fill="#1a1a1a" font-weight="bold" text-anchor="middle" textLength="48.40" lengthAdjust="spacingAndGlyphs">PT−00417204</text>
<rect x="372.50" y="212.40" width="23.00" height="17.60" fill="#fff" stroke="#555" stroke-width="0.9"/>
<circle cx="384.60" cy="221.50" r="5.3" fill="none" stroke="#222" stroke-width="0.85"/>
<text x="384.60" y="224.45" font-size="8.2" fill="#1a1a1a" text-anchor="middle">5</text>
<rect x="372.50" y="211.70" width="137.10" height="78.10" fill="none" stroke="#5a5a5a" stroke-width="0.9"/>
<line x1="370.20" y1="287.00" x2="372.50" y2="287.00" stroke="#5a5a5a" stroke-width="0.9"/>
<text x="369.30" y="290.10" font-size="8.8" fill="#6e6e6e" text-anchor="end" textLength="4.00" lengthAdjust="spacingAndGlyphs">0</text>
<line x1="370.20" y1="272.75" x2="372.50" y2="272.75" stroke="#5a5a5a" stroke-width="0.9"/>
<text x="369.30" y="275.85" font-size="8.8" fill="#6e6e6e" text-anchor="end" textLength="4.00" lengthAdjust="spacingAndGlyphs">5</text>
<line x1="370.20" y1="258.50" x2="372.50" y2="258.50" stroke="#5a5a5a" stroke-width="0.9"/>
<text x="369.30" y="261.60" font-size="8.8" fill="#6e6e6e" text-anchor="end" textLength="8.00" lengthAdjust="spacingAndGlyphs">10</text>
<line x1="370.20" y1="244.25" x2="372.50" y2="244.25" stroke="#5a5a5a" stroke-width="0.9"/>
<text x="369.30" y="247.35" font-size="8.8" fill="#6e6e6e" text-anchor="end" textLength="8.00" lengthAdjust="spacingAndGlyphs">15</text>
<line x1="370.20" y1="230.00" x2="372.50" y2="230.00" stroke="#5a5a5a" stroke-width="0.9"/>
<text x="369.30" y="233.10" font-size="8.8" fill="#6e6e6e" text-anchor="end" textLength="8.00" lengthAdjust="spacingAndGlyphs">20</text>
<line x1="370.20" y1="215.75" x2="372.50" y2="215.75" stroke="#5a5a5a" stroke-width="0.9"/>
<text x="369.30" y="218.85" font-size="8.8" fill="#6e6e6e" text-anchor="end" textLength="8.00" lengthAdjust="spacingAndGlyphs">25</text>
<line x1="391.25" y1="289.80" x2="391.25" y2="291.80" stroke="#5a5a5a" stroke-width="0.9"/>
<line x1="490.70" y1="289.80" x2="490.70" y2="291.80" stroke="#5a5a5a" stroke-width="0.9"/>
<text x="391.25" y="300.90" font-size="8.8" fill="#6e6e6e" text-anchor="middle" textLength="29.20" lengthAdjust="spacingAndGlyphs">Baseline</text>
<text x="490.70" y="300.90" font-size="8.8" fill="#6e6e6e" text-anchor="middle" textLength="29.30" lengthAdjust="spacingAndGlyphs">Post Tx1</text>
<text x="441.05" y="311.60" font-size="8.8" font-weight="bold" text-anchor="middle" textLength="36.00" lengthAdjust="spacingAndGlyphs">Timepoint</text>
<text transform="translate(356.00,250.47) rotate(-90)" font-size="8.3" font-weight="bold" text-anchor="middle" textLength="33.2" lengthAdjust="spacingAndGlyphs">VAF (%)</text>
<rect x="11.75" y="328.30" width="97.00" height="19.20" fill="#fff" stroke="#6b6b6b" stroke-width="0.9"/>
<text x="18.25" y="341.00" font-size="8.3" font-weight="bold" textLength="30.50" lengthAdjust="spacingAndGlyphs">Table 1.</text>
<line x1="11.50" y1="349.50" x2="11.50" y2="615.00" stroke="#dbe2f4" stroke-width="1.0"/>
<line x1="70.90" y1="349.50" x2="70.90" y2="615.00" stroke="#dbe2f4" stroke-width="1.0"/>
<line x1="108.75" y1="349.50" x2="108.75" y2="615.00" stroke="#dbe2f4" stroke-width="1.0"/>
<line x1="250.00" y1="349.50" x2="250.00" y2="615.00" stroke="#dbe2f4" stroke-width="1.0"/>
<line x1="285.75" y1="349.50" x2="285.75" y2="615.00" stroke="#dbe2f4" stroke-width="1.0"/>
<line x1="327.50" y1="349.50" x2="327.50" y2="615.00" stroke="#dbe2f4" stroke-width="1.0"/>
<line x1="385.75" y1="349.50" x2="385.75" y2="615.00" stroke="#dbe2f4" stroke-width="1.0"/>
<line x1="451.25" y1="349.50" x2="451.25" y2="615.00" stroke="#dbe2f4" stroke-width="1.0"/>
<line x1="508.25" y1="349.50" x2="508.25" y2="615.00" stroke="#dbe2f4" stroke-width="1.0"/>
<line x1="11.50" y1="349.50" x2="508.25" y2="349.50" stroke="#dbe2f4" stroke-width="1.0"/>
<line x1="11.50" y1="407.30" x2="508.25" y2="407.30" stroke="#dbe2f4" stroke-width="1.0"/>
<line x1="11.50" y1="445.00" x2="508.25" y2="445.00" stroke="#dbe2f4" stroke-width="1.0"/>
<line x1="11.50" y1="464.25" x2="508.25" y2="464.25" stroke="#dbe2f4" stroke-width="1.0"/>
<line x1="11.50" y1="520.50" x2="508.25" y2="520.50" stroke="#dbe2f4" stroke-width="1.0"/>
<line x1="11.50" y1="558.10" x2="508.25" y2="558.10" stroke="#dbe2f4" stroke-width="1.0"/>
<line x1="11.50" y1="586.75" x2="508.25" y2="586.75" stroke="#dbe2f4" stroke-width="1.0"/>
<line x1="11.50" y1="615.00" x2="508.25" y2="615.00" stroke="#dbe2f4" stroke-width="1.0"/>
<line x1="11.50" y1="378.30" x2="508.25" y2="378.30" stroke="#86a0da" stroke-width="1.1"/>
<text x="41.25" y="357.40" font-size="6.75" stroke="#000" stroke-width="0.18" font-weight="bold" text-anchor="middle">PT-ID</text>
<text x="89.60" y="357.40" font-size="6.75" stroke="#000" stroke-width="0.18" font-weight="bold" text-anchor="middle">Gene</text>
<text x="179.40" y="357.40" font-size="6.75" stroke="#000" stroke-width="0.18" font-weight="bold" text-anchor="middle">HGVSp</text>
<text x="268.00" y="357.40" font-size="6.75" stroke="#000" stroke-width="0.18" font-weight="bold" text-anchor="middle">Baseline</text>
<text x="306.40" y="357.40" font-size="6.75" stroke="#000" stroke-width="0.18" font-weight="bold" text-anchor="middle">Post CPI</text>
<text x="306.40" y="366.65" font-size="6.75" stroke="#000" stroke-width="0.18" font-weight="bold" text-anchor="middle">treatment</text>
<text x="356.40" y="357.40" font-size="6.75" stroke="#000" stroke-width="0.18" font-weight="bold" text-anchor="middle"># of months of</text>
<text x="356.40" y="366.65" font-size="6.75" stroke="#000" stroke-width="0.18" font-weight="bold" text-anchor="middle">CPI exposure</text>
<text x="418.60" y="357.40" font-size="6.75" stroke="#000" stroke-width="0.18" font-weight="bold" text-anchor="middle"># of months of</text>
<text x="418.60" y="366.65" font-size="6.75" stroke="#000" stroke-width="0.18" font-weight="bold" text-anchor="middle">CTX exposure</text>
<text x="479.90" y="357.40" font-size="6.75" stroke="#000" stroke-width="0.18" font-weight="bold" text-anchor="middle">Targeted</text>
<text x="479.90" y="366.65" font-size="6.75" stroke="#000" stroke-width="0.18" font-weight="bold" text-anchor="middle">therapy</text>
<text x="479.90" y="375.90" font-size="6.75" stroke="#000" stroke-width="0.18" font-weight="bold" text-anchor="middle">exposure</text>
<text x="41.25" y="386.70" font-size="6.75" stroke="#000" stroke-width="0.18" font-weight="bold" text-anchor="middle">PT-00137306</text>
<text x="90.00" y="386.50" font-size="6.75" stroke="#000" stroke-width="0.3" font-style="italic" text-anchor="middle" textLength="19.60" lengthAdjust="spacingAndGlyphs">SRCAP</text>
<text x="179.40" y="386.70" font-size="6.75" stroke="#000" stroke-width="0.18" text-anchor="middle">ENSP00000262518.4:p.Pro1879ThrfsTer21</text>
<text x="268.00" y="386.70" font-size="6.75" stroke="#000" stroke-width="0.18" text-anchor="middle">0.0527</text>
<text x="306.40" y="386.70" font-size="6.75" fill="#ff0000" stroke="#ff0000" stroke-width="0.18" font-weight="bold" text-anchor="middle">0</text>
<text x="356.40" y="386.70" font-size="6.75" fill="#4472c4" stroke="#4472c4" stroke-width="0.18" text-anchor="middle">Durvalumab - 4</text>
<text x="356.40" y="395.95" font-size="6.75" fill="#4472c4" stroke="#4472c4" stroke-width="0.18" text-anchor="middle">months and 27</text>
<text x="356.40" y="405.20" font-size="6.75" fill="#4472c4" stroke="#4472c4" stroke-width="0.18" text-anchor="middle">days</text>
<text x="418.60" y="386.70" font-size="6.75" stroke="#000" stroke-width="0.18" text-anchor="middle">Cisplatin - 42</text>
<text x="418.60" y="395.95" font-size="6.75" stroke="#000" stroke-width="0.18" text-anchor="middle">days; Pemetrexed</text>
<text x="418.60" y="405.20" font-size="6.75" stroke="#000" stroke-width="0.18" text-anchor="middle">&gt;180 days</text>
<text x="479.90" y="386.70" font-size="6.75" stroke="#000" stroke-width="0.18" text-anchor="middle">Yes (Afatinib,</text>
<text x="479.90" y="395.95" font-size="6.75" stroke="#000" stroke-width="0.18" text-anchor="middle">Osimertinib)</text>
<text x="41.25" y="415.10" font-size="6.75" stroke="#000" stroke-width="0.18" font-weight="bold" text-anchor="middle">PT-00335231</text>
<text x="90.00" y="414.90" font-size="6.75" stroke="#000" stroke-width="0.3" font-style="italic" text-anchor="middle" textLength="27.00" lengthAdjust="spacingAndGlyphs">DNMT3A</text>
<text x="179.40" y="415.10" font-size="6.75" stroke="#000" stroke-width="0.18" text-anchor="middle">ENSP00000264709.3:p.Arg736Cys</text>
<text x="268.00" y="415.10" font-size="6.75" stroke="#000" stroke-width="0.18" text-anchor="middle">0.0109</text>
<text x="306.40" y="415.10" font-size="6.75" fill="#3f8a22" stroke="#3f8a22" stroke-width="0.18" text-anchor="middle">0.0127</text>
<text x="356.40" y="415.10" font-size="6.75" fill="#4472c4" stroke="#4472c4" stroke-width="0.18" text-anchor="middle">Nivolumab - 10</text>
<text x="356.40" y="424.35" font-size="6.75" fill="#4472c4" stroke="#4472c4" stroke-width="0.18" text-anchor="middle">months and 10</text>
<text x="356.40" y="433.60" font-size="6.75" fill="#4472c4" stroke="#4472c4" stroke-width="0.18" text-anchor="middle">days</text>
<text x="418.60" y="415.10" font-size="6.75" stroke="#000" stroke-width="0.18" text-anchor="middle">Carboplatin and</text>
<text x="418.60" y="424.35" font-size="6.75" stroke="#000" stroke-width="0.18" text-anchor="middle">Pemetrexed - 2</text>
<text x="418.60" y="433.60" font-size="6.75" stroke="#000" stroke-width="0.18" text-anchor="middle">months and 17</text>
<text x="418.60" y="442.85" font-size="6.75" stroke="#000" stroke-width="0.18" text-anchor="middle">days</text>
<text x="479.90" y="415.10" font-size="6.75" stroke="#000" stroke-width="0.18" text-anchor="middle">No</text>
<text x="41.25" y="452.80" font-size="6.75" stroke="#000" stroke-width="0.18" font-weight="bold" text-anchor="middle">PT-00339222</text>
<text x="90.00" y="452.60" font-size="6.75" stroke="#000" stroke-width="0.3" font-style="italic" text-anchor="middle" textLength="15.50" lengthAdjust="spacingAndGlyphs">RYR2</text>
<text x="179.40" y="452.80" font-size="6.75" stroke="#000" stroke-width="0.18" text-anchor="middle">ENSP00000355533.2:p.Gln4164Ter</text>
<text x="268.00" y="452.80" font-size="6.75" stroke="#000" stroke-width="0.18" text-anchor="middle">0</text>
<text x="306.40" y="452.80" font-size="6.75" stroke="#000" stroke-width="0.18" text-anchor="middle">0.0132</text>
<text x="356.40" y="452.80" font-size="6.75" stroke="#000" stroke-width="0.18" text-anchor="middle">Pembrolizumab</text>
<text x="356.40" y="462.05" font-size="6.75" stroke="#000" stroke-width="0.18" text-anchor="middle">- 56 days</text>
<text x="418.60" y="452.80" font-size="6.75" stroke="#000" stroke-width="0.18" text-anchor="middle">None</text>
<text x="479.90" y="452.80" font-size="6.75" stroke="#000" stroke-width="0.18" text-anchor="middle">No</text>
<text x="41.25" y="471.90" font-size="6.75" stroke="#000" stroke-width="0.18" font-weight="bold" text-anchor="middle">PT-00340589</text>
<text x="90.00" y="471.70" font-size="6.75" stroke="#000" stroke-width="0.3" font-style="italic" text-anchor="middle" textLength="14.80" lengthAdjust="spacingAndGlyphs">ATM</text>
<text x="179.40" y="471.90" font-size="6.75" stroke="#000" stroke-width="0.18" text-anchor="middle">ENSP00000278616.4:p.Leu2890Ile</text>
<text x="268.00" y="471.90" font-size="6.75" stroke="#000" stroke-width="0.18" text-anchor="middle">0.0084</text>
<text x="306.40" y="471.90" font-size="6.75" stroke="#000" stroke-width="0.18" text-anchor="middle">0.058</text>
<text x="356.40" y="471.90" font-size="6.75" stroke="#000" stroke-width="0.18" text-anchor="middle">Pembrolizumab</text>
<text x="356.40" y="481.15" font-size="6.75" stroke="#000" stroke-width="0.18" text-anchor="middle">- 63 days</text>
<text x="390.00" y="471.90" font-size="6.75" stroke="#000" stroke-width="0.18">Carboplatin and</text>
<text x="390.00" y="481.15" font-size="6.75" stroke="#000" stroke-width="0.18">Paclitaxel - 161</text>
<text x="390.00" y="490.40" font-size="6.75" stroke="#000" stroke-width="0.18">days;</text>
<text x="390.00" y="499.65" font-size="6.75" stroke="#000" stroke-width="0.18">Ramucirumab and</text>
<text x="390.00" y="508.90" font-size="6.75" stroke="#000" stroke-width="0.18">Docetaxel - 119</text>
<text x="390.00" y="518.15" font-size="6.75" stroke="#000" stroke-width="0.18">days</text>
<text x="479.90" y="471.90" font-size="6.75" stroke="#000" stroke-width="0.18" text-anchor="middle">No</text>
<text x="41.25" y="528.15" font-size="6.75" stroke="#000" stroke-width="0.18" font-weight="bold" text-anchor="middle">PT-00368295</text>
<text x="90.00" y="527.95" font-size="6.75" stroke="#000" stroke-width="0.3" font-style="italic" text-anchor="middle" textLength="18.00" lengthAdjust="spacingAndGlyphs">STK11</text>
<text x="179.40" y="528.15" font-size="6.75" stroke="#000" stroke-width="0.18" text-anchor="middle">ENSP00000324856.6:p.Pro281Leu</text>
<text x="268.00" y="528.15" font-size="6.75" stroke="#000" stroke-width="0.18" text-anchor="middle">0.0577</text>
<text x="306.40" y="528.15" font-size="6.75" fill="#ff0000" stroke="#ff0000" stroke-width="0.18" font-weight="bold" text-anchor="middle">0.0379</text>
<text x="356.40" y="528.15" font-size="6.75" fill="#4472c4" stroke="#4472c4" stroke-width="0.18" text-anchor="middle">Pembrolizumab</text>
<text x="356.40" y="537.40" font-size="6.75" fill="#4472c4" stroke="#4472c4" stroke-width="0.18" text-anchor="middle">- 1 year, 9</text>
<text x="356.40" y="546.65" font-size="6.75" fill="#4472c4" stroke="#4472c4" stroke-width="0.18" text-anchor="middle">months and 13</text>
<text x="356.40" y="555.90" font-size="6.75" fill="#4472c4" stroke="#4472c4" stroke-width="0.18" text-anchor="middle">days</text>
<text x="418.60" y="528.15" font-size="6.75" stroke="#000" stroke-width="0.18" text-anchor="middle">Carboplatin - 24</text>
<text x="418.60" y="537.40" font-size="6.75" stroke="#000" stroke-width="0.18" text-anchor="middle">days; Pemetrexed</text>
<text x="418.60" y="546.65" font-size="6.75" stroke="#000" stroke-width="0.18" text-anchor="middle">- 266 days</text>
<text x="479.90" y="528.15" font-size="6.75" stroke="#000" stroke-width="0.18" text-anchor="middle">No</text>
<text x="41.25" y="566.15" font-size="6.75" stroke="#000" stroke-width="0.18" font-weight="bold" text-anchor="middle">PT-00389859</text>
<text x="90.00" y="565.95" font-size="6.75" stroke="#000" stroke-width="0.3" font-style="italic" text-anchor="middle" textLength="14.00" lengthAdjust="spacingAndGlyphs">TET2</text>
<text x="179.40" y="566.15" font-size="6.75" stroke="#000" stroke-width="0.18" text-anchor="middle">ENSP00000442788.1:p.Glu1178Ter</text>
<text x="268.00" y="566.15" font-size="6.75" stroke="#000" stroke-width="0.18" text-anchor="middle">0.086</text>
<text x="306.40" y="566.15" font-size="6.75" fill="#3f8a22" stroke="#3f8a22" stroke-width="0.18" text-anchor="middle">0.0883</text>
<text x="356.40" y="566.15" font-size="6.75" fill="#4472c4" stroke="#4472c4" stroke-width="0.18" text-anchor="middle">Pembrolizumab</text>
<text x="356.40" y="575.40" font-size="6.75" fill="#4472c4" stroke="#4472c4" stroke-width="0.18" text-anchor="middle">- 1 year and 10</text>
<text x="356.40" y="584.65" font-size="6.75" fill="#4472c4" stroke="#4472c4" stroke-width="0.18" text-anchor="middle">months</text>
<text x="418.60" y="566.15" font-size="6.75" stroke="#000" stroke-width="0.18" text-anchor="middle">None</text>
<text x="479.90" y="566.15" font-size="6.75" stroke="#000" stroke-width="0.18" text-anchor="middle">No</text>
<text x="41.25" y="594.40" font-size="6.75" stroke="#000" stroke-width="0.18" font-weight="bold" text-anchor="middle">PT-00389859</text>
<text x="90.00" y="594.20" font-size="6.75" stroke="#000" stroke-width="0.3" font-style="italic" text-anchor="middle" textLength="16.60" lengthAdjust="spacingAndGlyphs">TPM1</text>
<text x="179.40" y="594.40" font-size="6.75" stroke="#000" stroke-width="0.18" text-anchor="middle">ENSP00000351022.3:p.Ala102Thr</text>
<text x="268.00" y="594.40" font-size="6.75" stroke="#000" stroke-width="0.18" text-anchor="middle">0.0455</text>
<text x="306.40" y="594.40" font-size="6.75" fill="#ff0000" stroke="#ff0000" stroke-width="0.18" font-weight="bold" text-anchor="middle">0.029</text>
<text x="356.40" y="594.40" font-size="6.75" fill="#4472c4" stroke="#4472c4" stroke-width="0.18" text-anchor="middle">Pembrolizumab</text>
<text x="356.40" y="603.65" font-size="6.75" fill="#4472c4" stroke="#4472c4" stroke-width="0.18" text-anchor="middle">- 1 year and 10</text>
<text x="356.40" y="612.90" font-size="6.75" fill="#4472c4" stroke="#4472c4" stroke-width="0.18" text-anchor="middle">months</text>
<text x="418.60" y="594.40" font-size="6.75" stroke="#000" stroke-width="0.18" text-anchor="middle">None</text>
<text x="479.90" y="594.40" font-size="6.75" stroke="#000" stroke-width="0.18" text-anchor="middle">No</text>
<text x="11.80" y="622.90" font-size="6.75" fill="#222" stroke="#222" stroke-width="0.18" font-style="italic" textLength="38.60" lengthAdjust="spacingAndGlyphs">Color Code –</text>
<text x="52.20" y="622.90" font-size="6.75" stroke="#000" stroke-width="0.18" font-weight="bold" font-style="italic" textLength="64.30" lengthAdjust="spacingAndGlyphs">Post CPI Treatment (</text>
<text x="117.30" y="622.90" font-size="6.75" fill="#ff0000" stroke="#ff0000" stroke-width="0.18" font-weight="bold" font-style="italic" textLength="15.70" lengthAdjust="spacingAndGlyphs">Red -</text>
<text x="143.60" y="622.90" font-size="6.75" fill="#222" stroke="#222" stroke-width="0.18" font-style="italic" textLength="21.80" lengthAdjust="spacingAndGlyphs">in VAF;</text>
<text x="167.10" y="622.90" font-size="6.75" fill="#3f8a22" stroke="#3f8a22" stroke-width="0.18" font-weight="bold" font-style="italic" textLength="24.90" lengthAdjust="spacingAndGlyphs">Green -</text>
<text x="201.50" y="622.90" font-size="6.75" fill="#222" stroke="#222" stroke-width="0.18" font-style="italic" textLength="174.60" lengthAdjust="spacingAndGlyphs">in VAF; Black – Not evaluated as CPI exposure &lt;3 months</text>
<text x="376.40" y="622.90" font-size="6.75" stroke="#000" stroke-width="0.18" font-weight="bold" font-style="italic" textLength="3.60" lengthAdjust="spacingAndGlyphs">);</text>
<path d="M138.5 617.4 V623.3 M136.2 621.1 L138.5 623.5 L140.8 621.1 M195.5 617.6 V623.5 M193.2 619.8 L195.5 617.4 L197.8 619.8" fill="none" stroke="#222" stroke-width="0.85"/>
<text x="13.50" y="639.40" font-size="6.75" stroke="#000" stroke-width="0.18" font-weight="bold" font-style="italic" textLength="90.70" lengthAdjust="spacingAndGlyphs"># of months of CPI exposure (</text>
<text x="105.80" y="639.40" font-size="6.75" fill="#4472c4" stroke="#4472c4" stroke-width="0.18" font-style="italic" textLength="17.20" lengthAdjust="spacingAndGlyphs">Blue -</text>
<text x="125.00" y="639.40" font-size="6.75" fill="#111" stroke="#111" stroke-width="0.18" font-style="italic" textLength="82.40" lengthAdjust="spacingAndGlyphs">≥ 3 months of CPI exposure</text>
<text x="207.60" y="639.40" font-size="6.75" stroke="#000" stroke-width="0.18" font-weight="bold" font-style="italic" textLength="3.00" lengthAdjust="spacingAndGlyphs">)</text>
</svg>
</body></html>
